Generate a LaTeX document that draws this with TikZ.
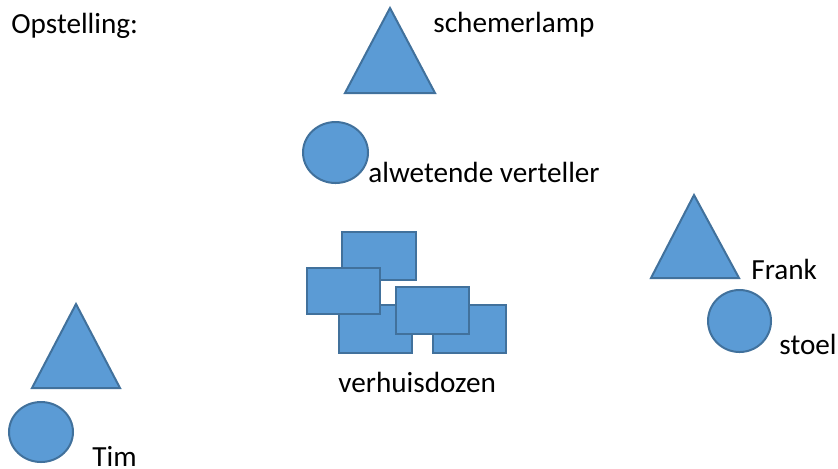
\documentclass[tikz,border=0pt]{standalone}
\usepackage{fontspec}
\setmainfont{Carlito}
\usepackage{tikz}
\usetikzlibrary{
  positioning,
}
\definecolor{officeblue}{RGB}{91, 155, 213}
\definecolor{officeline}{RGB}{65, 113, 156}
\tikzstyle{prop} = [
  fill=officeblue,
  draw=officeline,
  line width=1pt,
  line join=miter,
]
\tikzstyle{label} = [
  anchor=base west,
  inner sep=0,
  font=\fontsize{14.6}{17.5}\selectfont,
  text=black,
]

\begin{document}
\begin{tikzpicture}[x=0.5pt, y=-0.5pt]

        \useasboundingbox (0,0) rectangle (838,468);

        \node [label] (title) at (11, 33) {Opstelling:};

        % Schemerlamp en verteller
        \filldraw [prop] (345, 93) -- (390, 8) -- (435, 93) -- cycle;
        \node [label] (lamp) at (433, 32) {schemerlamp};

        \filldraw [prop] (335.5, 152.5) ellipse [x radius=16.25pt, y radius=15.25pt];
        \node [label] (verteller) at (368, 182) {alwetende verteller};

        % Verhuisdozen
        \filldraw [prop, line width=1.3pt] (342, 232) rectangle (416, 280);
        \filldraw [prop, line width=1.3pt] (339, 305) rectangle (412, 353);
        \filldraw [prop, line width=1.3pt] (433, 305) rectangle (506, 353);
        \filldraw [prop, line width=1.3pt] (307, 268) rectangle (380, 314);
        \filldraw [prop, line width=1.3pt] (396, 287) rectangle (469, 334);
        \node [label] (dozen) at (338, 392) {verhuisdozen};

        % Frank
        \filldraw [prop] (651, 278) -- (694, 195) -- (739, 278) -- cycle;
        \node [label] (frank) at (751, 279) {Frank};

        \filldraw [prop] (739.5, 321) ellipse [x radius=15.75pt, y radius=15.5pt];
        \node [label] (stoel) at (779, 354) {stoel};

        % Tim
        \filldraw [prop] (32, 388) -- (76, 304) -- (120, 388) -- cycle;

        \filldraw [prop] (41, 432) ellipse [x radius=16pt, y radius=15pt];
        \node [label] (tim) at (92, 466) {Tim};
      \end{tikzpicture}
\end{document}
